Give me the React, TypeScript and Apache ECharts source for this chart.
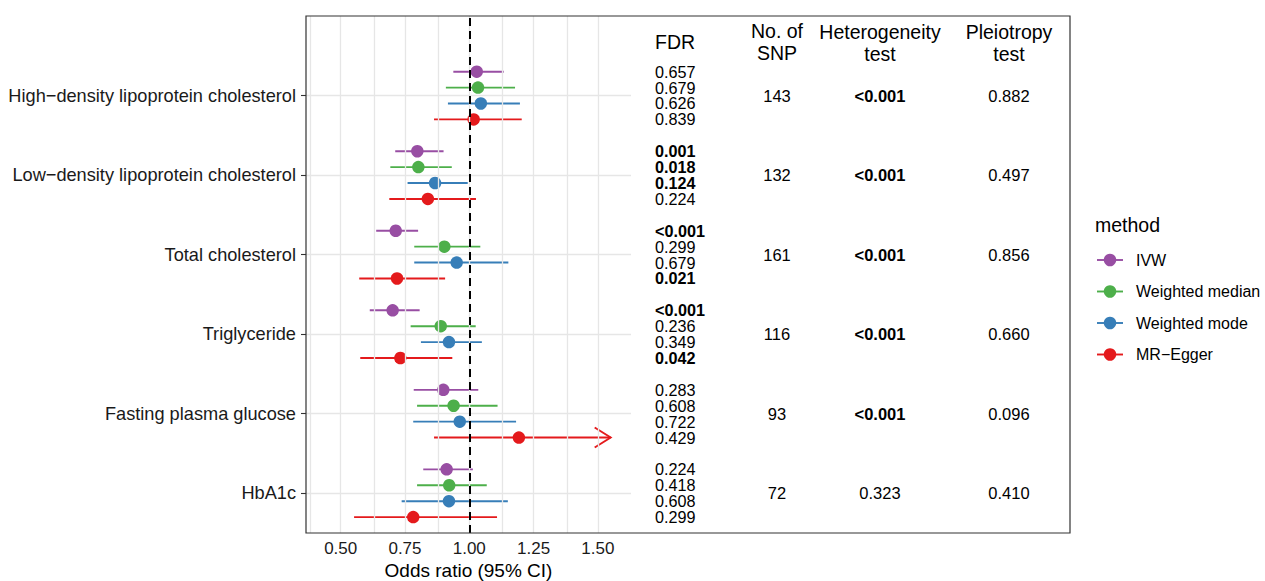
import React, { useEffect, useRef } from "react";
import * as echarts from "echarts";

// ---------- data ----------
const categories = [
  "High\u2212density lipoprotein cholesterol",
  "Low\u2212density lipoprotein cholesterol",
  "Total cholesterol",
  "Triglyceride",
  "Fasting plasma glucose",
  "HbA1c",
];
const methods = ["IVW", "Weighted median", "Weighted mode", "MR\u2212Egger"];
const methodColors = ["#984EA3", "#4DAF4A", "#377EB8", "#E41A1C"];

const ivwOR = [1.029, 0.798, 0.714, 0.702, 0.899, 0.912];
const ivwLow = [0.938, 0.712, 0.638, 0.613, 0.784, 0.821];
const ivwHigh = [1.134, 0.9, 0.801, 0.807, 1.035, 1.014];

const wmedOR = [1.034, 0.802, 0.903, 0.889, 0.939, 0.922];
const wmedLow = [0.909, 0.693, 0.786, 0.772, 0.797, 0.797];
const wmedHigh = [1.178, 0.932, 1.043, 1.025, 1.11, 1.068];

const wmodeOR = [1.045, 0.867, 0.951, 0.921, 0.963, 0.921];
const wmodeLow = [0.917, 0.76, 0.786, 0.812, 0.782, 0.737];
const wmodeHigh = [1.197, 0.994, 1.152, 1.049, 1.182, 1.15];

const eggerOR = [1.017, 0.839, 0.719, 0.732, 1.193, 0.782];
const eggerLow = [0.863, 0.689, 0.572, 0.576, 0.863, 0.552];
const eggerHigh = [1.204, 1.026, 0.906, 0.934, 1.55, 1.108];
const eggerHighTruncated = [false, false, false, false, true, false];

const fdrIVW = ["0.657", "0.001", "<0.001", "<0.001", "0.283", "0.224"];
const fdrWmed = ["0.679", "0.018", "0.299", "0.236", "0.608", "0.418"];
const fdrWmode = ["0.626", "0.124", "0.679", "0.349", "0.722", "0.608"];
const fdrEgger = ["0.839", "0.224", "0.021", "0.042", "0.429", "0.299"];
const fdrBoldIVW = [false, true, true, true, false, false];
const fdrBoldWmed = [false, true, false, false, false, false];
const fdrBoldWmode = [false, true, false, false, false, false];
const fdrBoldEgger = [false, false, true, true, false, false];

const snpCount = ["143", "132", "161", "116", "93", "72"];
const heterogeneity = ["<0.001", "<0.001", "<0.001", "<0.001", "<0.001", "0.323"];
const heterogeneityBold = [true, true, true, true, true, false];
const pleiotropy = ["0.882", "0.497", "0.856", "0.660", "0.096", "0.410"];

const xTickValues = [0.5, 0.75, 1.0, 1.25, 1.5];
const xGridValues = [0.375, 0.5, 0.625, 0.75, 0.875, 1.0, 1.125, 1.25, 1.375, 1.5, 1.625];

// ---------- layout ----------
const FONT = "Liberation Sans, Arial, Helvetica, sans-serif";
const dodge = [0.3, 0.1, -0.1, -0.3];
const catY = (i: number) => categories.length - i;

const methodData = [
  { or: ivwOR, lo: ivwLow, hi: ivwHigh, fdr: fdrIVW, bold: fdrBoldIVW, trunc: null as null | boolean[] },
  { or: wmedOR, lo: wmedLow, hi: wmedHigh, fdr: fdrWmed, bold: fdrBoldWmed, trunc: null as null | boolean[] },
  { or: wmodeOR, lo: wmodeLow, hi: wmodeHigh, fdr: fdrWmode, bold: fdrBoldWmode, trunc: null as null | boolean[] },
  { or: eggerOR, lo: eggerLow, hi: eggerHigh, fdr: fdrEgger, bold: fdrBoldEgger, trunc: eggerHighTruncated },
];

const GRID_LEFT = 306;
const GRID_TOP = 16;
const GRID_W = 325;
const GRID_H = 517;
const PANEL_RIGHT = 1070;
const FDR_X = 655;
const SNP_X = 777;
const HET_X = 880;
const PLEIO_X = 1009;
const BAR_W = 1.9;

export default function App() {
  const ref = useRef<HTMLDivElement>(null);
  useEffect(() => {
    if (!ref.current) return;
    const chart = echarts.init(ref.current, null, { renderer: "svg" });

    const series: any[] = [];

    // gridlines
    series.push({
      type: "scatter",
      data: [],
      z: 1,
      silent: true,
      markLine: {
        silent: true,
        symbol: ["none", "none"],
        label: { show: false },
        animation: false,
        lineStyle: { color: "#E6E6E6", width: 1.3, type: "solid" },
        data: [
          ...xGridValues.map((v) => ({ xAxis: v })),
          ...categories.map((_, i) => ({ yAxis: catY(i) })),
        ],
      },
    });

    // error bars
    methodData.forEach((m, k) => {
      series.push({
        type: "custom",
        name: methods[k] + " CI",
        z: 2,
        silent: true,
        encode: { x: [0, 1], y: 2 },
        data: m.or.map((_, i) => [m.lo[i], m.hi[i], catY(i) + dodge[k], m.trunc && m.trunc[i] ? 1 : 0]),
        renderItem: (params: any, api: any) => {
          const lo = api.value(0);
          const hi = api.value(1);
          const y = api.value(2);
          const trunc = api.value(3);
          const p1 = api.coord([lo, y]);
          const p2 = api.coord([hi, y]);
          const children: any[] = [
            {
              type: "line",
              shape: { x1: p1[0], y1: p1[1], x2: p2[0], y2: p2[1] },
              style: { stroke: methodColors[k], lineWidth: BAR_W },
            },
          ];
          if (trunc) {
            children.push({
              type: "polyline",
              shape: {
                points: [
                  [p2[0] - 16, p2[1] - 10],
                  [p2[0], p2[1]],
                  [p2[0] - 16, p2[1] + 10],
                ],
              },
              style: { stroke: methodColors[k], lineWidth: BAR_W, fill: "none" },
            });
          }
          return { type: "group", children };
        },
      });
    });

    // reference line
    series.push({
      type: "scatter",
      data: [],
      z: 3,
      silent: true,
      markLine: {
        silent: true,
        symbol: ["none", "none"],
        label: { show: false },
        animation: false,
        lineStyle: { color: "#000", width: 2, type: [8, 5] },
        data: [{ xAxis: 1 }],
      },
    });

    // points
    methodData.forEach((m, k) => {
      series.push({
        type: "scatter",
        name: methods[k],
        z: 4,
        symbol: "circle",
        symbolSize: 12.5,
        itemStyle: { color: methodColors[k], opacity: 1 },
        data: m.or.map((v, i) => [v, catY(i) + dodge[k]]),
      });
    });

    // FDR column text
    methodData.forEach((m, k) => {
      series.push({
        type: "custom",
        name: methods[k] + " FDR",
        z: 5,
        silent: true,
        clip: false,
        encode: { x: 0, y: 1 },
        data: m.fdr.map((_, i) => [1, catY(i) + dodge[k], i]),
        renderItem: (params: any, api: any) => {
          const i = api.value(2);
          const p = api.coord([1, api.value(1)]);
          return {
            type: "text",
            x: FDR_X,
            y: p[1],
            style: {
              text: m.fdr[i],
              fill: "#000",
              fontFamily: FONT,
              fontSize: 16.2,
              fontWeight: m.bold[i] ? "bold" : "normal",
              align: "left",
              verticalAlign: "middle",
            },
          };
        },
      });
    });

    // other table columns
    series.push({
      type: "custom",
      name: "table",
      z: 5,
      silent: true,
      clip: false,
      encode: { x: 0, y: 1 },
      data: categories.map((_, i) => [1, catY(i), i]),
      renderItem: (params: any, api: any) => {
        const i = api.value(2);
        const p = api.coord([1, api.value(1)]);
        const base = { fill: "#000", fontFamily: FONT, fontSize: 16.5, align: "center", verticalAlign: "middle" };
        return {
          type: "group",
          children: [
            { type: "text", x: SNP_X, y: p[1], style: { ...base, text: snpCount[i] } },
            {
              type: "text",
              x: HET_X,
              y: p[1],
              style: { ...base, text: heterogeneity[i], fontWeight: heterogeneityBold[i] ? "bold" : "normal" },
            },
            { type: "text", x: PLEIO_X, y: p[1], style: { ...base, text: pleiotropy[i] } },
          ],
        };
      },
    });

    const headerStyle = { fill: "#000", fontFamily: FONT, fontSize: 19.5, align: "center", verticalAlign: "middle", lineHeight: 22 };
    const legendItems = methods.map((name, k) => ({
      type: "group",
      x: 1097,
      y: 260 + k * 31.5,
      children: [
        { type: "line", shape: { x1: 0, y1: 0, x2: 26, y2: 0 }, style: { stroke: methodColors[k], lineWidth: BAR_W } },
        { type: "circle", shape: { cx: 13, cy: 0, r: 6.25 }, style: { fill: methodColors[k] } },
        {
          type: "text",
          x: 39,
          y: 0,
          style: { text: name, fill: "#000", fontFamily: FONT, fontSize: 16, align: "left", verticalAlign: "middle" },
        },
      ],
    }));

    chart.setOption({
      animation: false,
      backgroundColor: "#fff",
      grid: { left: GRID_LEFT, top: GRID_TOP, width: GRID_W, height: GRID_H },
      xAxis: {
        type: "value",
        min: 0.365,
        max: 1.629,
        axisLine: { show: false },
        axisTick: { show: false },
        splitLine: { show: false },
        axisLabel: {
          customValues: xTickValues,
          formatter: (v: number) => v.toFixed(2),
          color: "#1A1A1A",
          fontFamily: FONT,
          fontSize: 17,
          margin: 7,
        },
      },
      yAxis: {
        type: "value",
        min: 0.5,
        max: 7,
        axisLine: { show: false },
        splitLine: { show: false },
        axisTick: {
          show: true,
          customValues: categories.map((_, i) => catY(i)),
          length: 5,
          lineStyle: { color: "#333", width: 1.1 },
        },
        axisLabel: {
          customValues: categories.map((_, i) => catY(i)),
          formatter: (v: number) => categories[categories.length - Math.round(v)] ?? "",
          color: "#1A1A1A",
          fontFamily: FONT,
          fontSize: 18.2,
          margin: 10,
        },
      },
      series,
      graphic: [
        {
          type: "rect",
          z: 100,
          shape: { x: GRID_LEFT, y: GRID_TOP, width: PANEL_RIGHT - GRID_LEFT, height: GRID_H },
          style: { fill: "none", stroke: "#333", lineWidth: 1.2 },
          silent: true,
        },
        {
          type: "text",
          x: GRID_LEFT + GRID_W / 2,
          y: 570,
          style: { text: "Odds ratio (95% CI)", fill: "#000", fontFamily: FONT, fontSize: 19, align: "center", verticalAlign: "middle" },
        },
        { type: "text", x: 675, y: 41.5, style: { ...headerStyle, text: "FDR" } },
        { type: "text", x: SNP_X, y: 42, style: { ...headerStyle, text: "No. of\nSNP" } },
        { type: "text", x: HET_X, y: 43, style: { ...headerStyle, text: "Heterogeneity\ntest" } },
        { type: "text", x: PLEIO_X, y: 43, style: { ...headerStyle, text: "Pleiotropy\ntest" } },
        {
          type: "text",
          x: 1095,
          y: 225,
          style: { text: "method", fill: "#000", fontFamily: FONT, fontSize: 19.5, align: "left", verticalAlign: "middle" },
        },
        ...legendItems,
      ],
    });

    return () => chart.dispose();
  }, []);

  return (
    <div
      ref={ref}
      style={{ position: "absolute", left: 0, top: 0, width: 1265, height: 581, background: "#fff" }}
    />
  );
}
